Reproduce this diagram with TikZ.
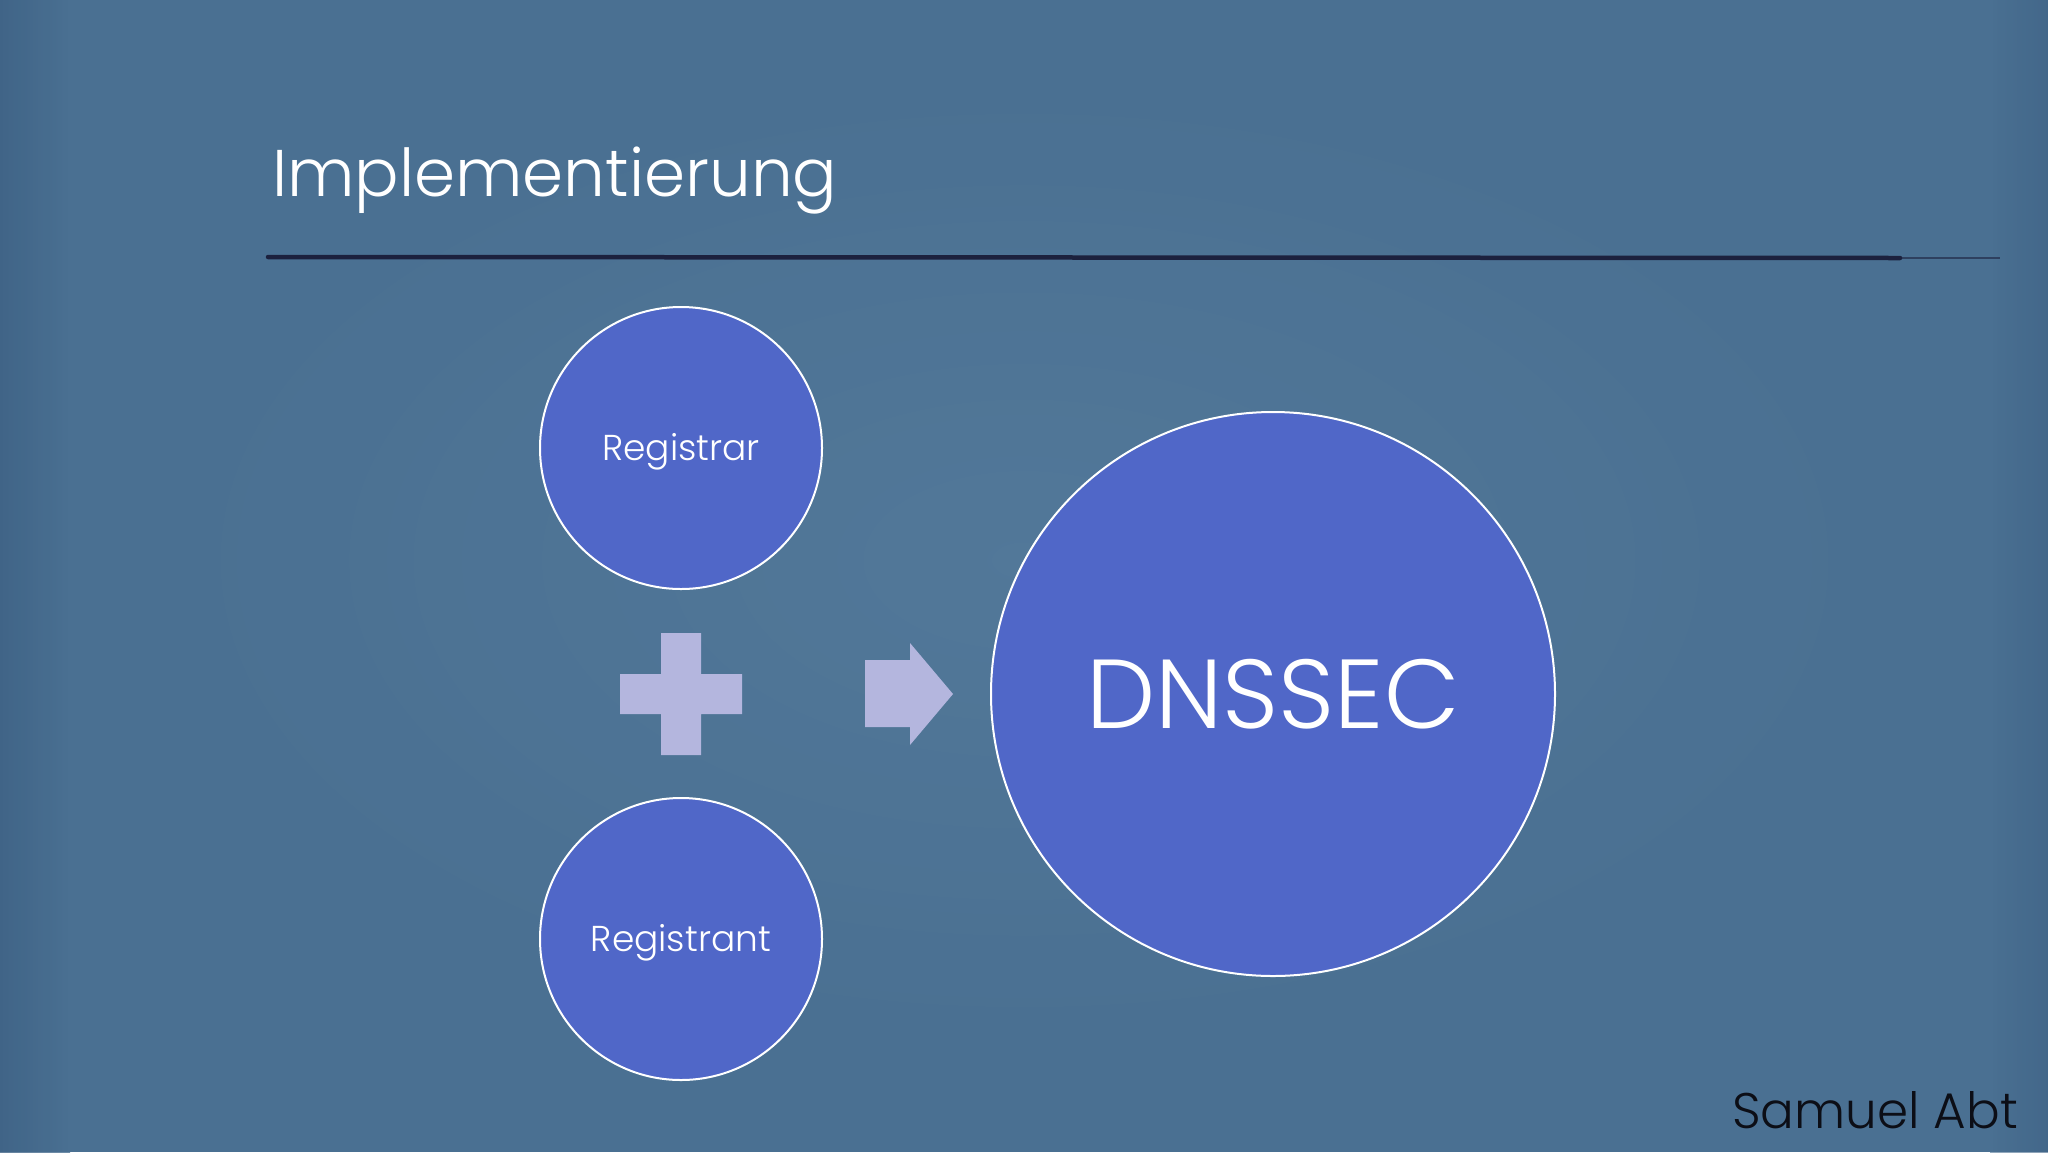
\documentclass[tikz,border=0pt]{standalone}
\usepackage{fontspec}
\usetikzlibrary{calc}
\setmainfont{Poppins Light}
\definecolor{bgblue}{RGB}{74,112,146}
\definecolor{bgdark}{RGB}{62,98,133}
\definecolor{bglight}{RGB}{88,126,158}
\definecolor{circfill}{RGB}{80,103,200}
\definecolor{shapefill}{RGB}{180,182,222}
\definecolor{rulecol}{RGB}{28,33,62}
\definecolor{authorcol}{RGB}{12,14,22}
\tikzset{
  circ/.style={circle, draw=white, line width=2pt, fill=circfill, inner sep=0pt, text=white, text depth=0pt},
  smalltext/.style={font=\fontsize{36}{42}\selectfont, text height=25pt},
  symb/.style={fill=shapefill, draw=none},
}
\begin{document}
\begin{tikzpicture}[x=1pt,y=-1pt]
\useasboundingbox (0,0) rectangle (2048,1152);
% background
\fill[bgblue] (0,0) rectangle (2048,1152);
\shade[inner color=bglight, outer color=bgblue, opacity=0.6] (1024,560) ellipse (900 and 500);
\shade[left color=bgdark, right color=bgblue, opacity=0.8] (0,0) rectangle (70,1152);
\shade[left color=bgblue, right color=bgdark, opacity=0.6] (1990,0) rectangle (2048,1152);
% title
\node[anchor=base west, text=white, font=\fontsize{66}{76}\selectfont, inner sep=0pt] (title) at (272,196) {Implementierung};
% rule
\coordinate (rulestart) at (268,257);
\coordinate (ruleend) at (1900,258);
\coordinate (rulefade) at (2000,258);
\draw[rulecol, line width=4.5pt, line cap=round] (rulestart) -- (ruleend);
\draw[rulecol, line width=2pt, opacity=0.6] (ruleend) -- (rulefade);
% circles
\node[circ, smalltext, minimum size=282pt] (registrar) at (681,448) {Registrar};
\node[circ, smalltext, minimum size=282pt] (registrant) at (681,939) {Registrant};
\node[circ, minimum size=564pt, font=\fontsize{98}{108}\selectfont, text height=69pt] (dnssec) at (1273,694) {DNSSEC};
% plus
\coordinate (plusc) at (681,694);
\fill[symb] ($(plusc)+(-61,-20)$) -- ++(41,0) -- ++(0,-41) -- ++(40,0) -- ++(0,41) -- ++(41,0)
  -- ++(0,40) -- ++(-41,0) -- ++(0,41) -- ++(-40,0) -- ++(0,-41) -- ++(-41,0) -- cycle;
% arrow
\coordinate (arrowtip) at (953,694);
\fill[symb] (865,660) -- (910,660) -- (910,643) -- (arrowtip) -- (910,745) -- (910,727) -- (865,727) -- cycle;
% author
\node[anchor=base east, text=authorcol, font=\fontsize{50}{58}\selectfont, inner sep=0pt] (author) at (2018,1128) {Samuel Abt};
\end{tikzpicture}
\end{document}
